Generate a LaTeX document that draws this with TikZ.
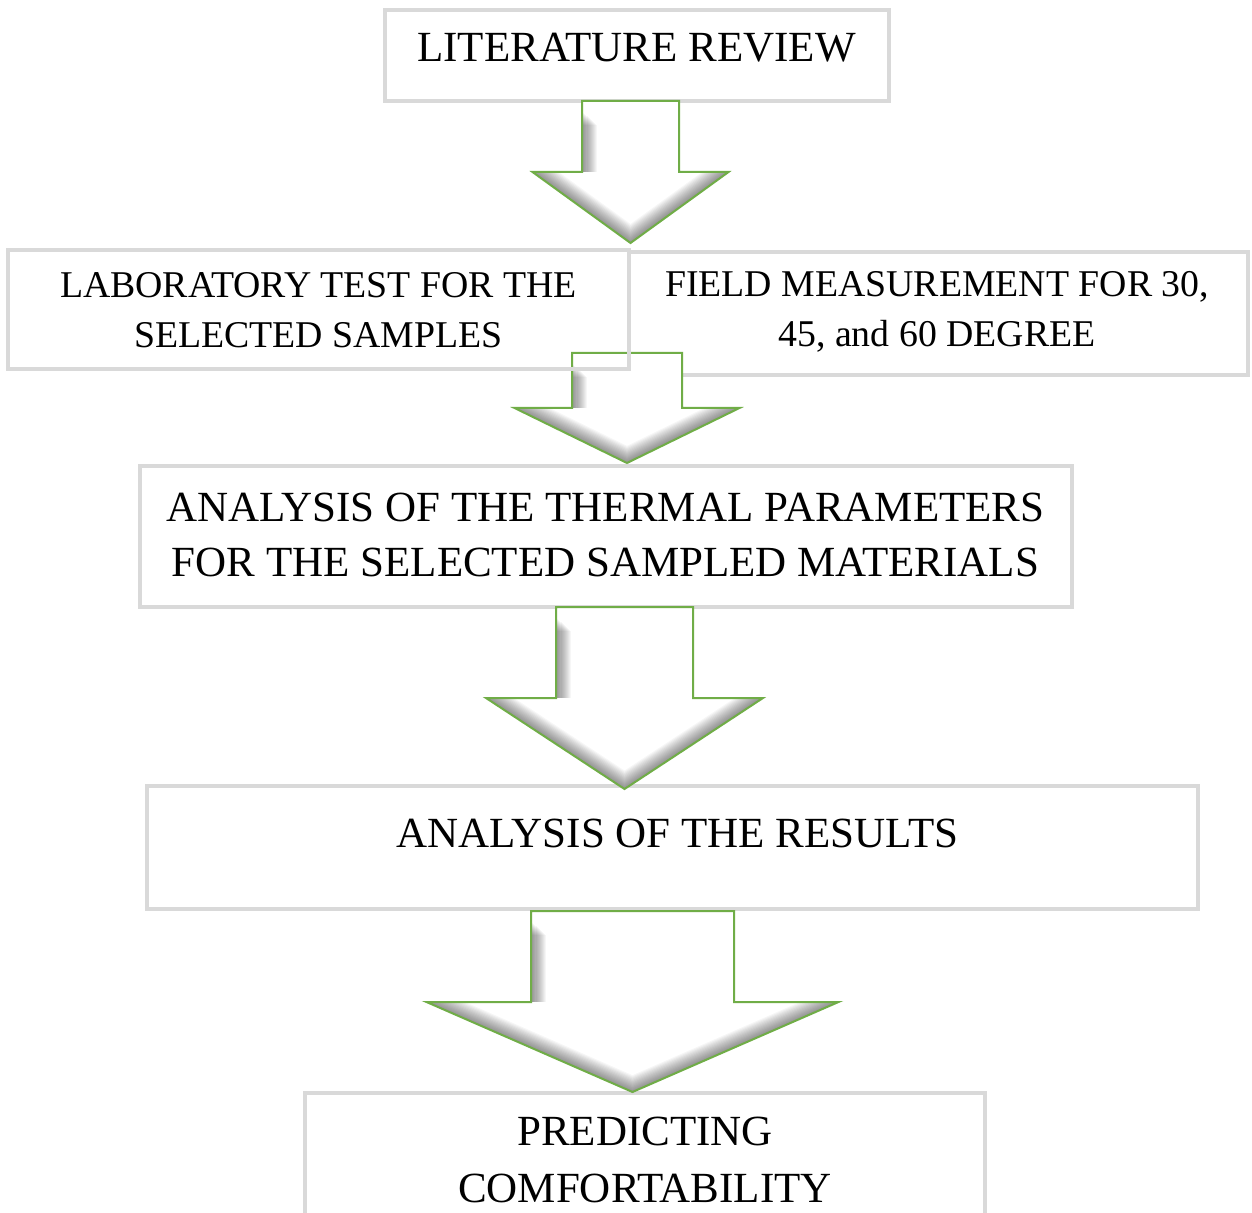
\documentclass[tikz,border=0pt]{standalone}
\usepackage{fontspec}
\setmainfont{Liberation Serif}
\usetikzlibrary{positioning}
\definecolor{boxgray}{HTML}{D9D9D9}
\definecolor{arrowgreen}{HTML}{70AD47}
\tikzset{
	stagebox/.style={draw=boxgray, line width=2pt, fill=white, inner sep=0pt},
	bigtext/.style={align=center, font=\fontsize{21.5}{27.5}\selectfont},
	smalltext/.style={align=center, font=\fontsize{18.9}{25}\selectfont},
	arrowbody/.style={draw=arrowgreen, line width=1pt, line join=miter},
	arrowshade/.style={black, opacity=0.035, line cap=butt}
}

\begin{document}
\begin{tikzpicture}[x=0.5pt,y=-0.5pt]
	\useasboundingbox (0,0) rectangle (1252,1213);
	% cadres
	\node[stagebox, minimum width=309.5pt, minimum height=61.5pt] (field) at (938.5,313.5) {};
	\node[stagebox, minimum width=252pt, minimum height=45.5pt] (lit) at (637,55.5) {};
	\node[stagebox, minimum width=466pt, minimum height=70.5pt] (thermal) at (606,536.5) {};
	\node[stagebox, minimum width=525.5pt, minimum height=61.5pt] (results) at (672.5,847.5) {};
	\node[stagebox, minimum width=340pt, minimum height=73.5pt] (predict) at (645,1166.5) {};
	% fleches
	\foreach \cx/\hs/\hh/\ytop/\ysh/\ytip in {630.5/48.5/98/101/172/243, 627/55/112.5/353/408/463,
		624.5/68.5/138.5/607/698/789, 632.5/101.5/206/911/1002/1092} {
		\begin{scope}
			\clip (\cx-\hs,\ytop) -- (\cx+\hs,\ytop) -- (\cx+\hs,\ysh) -- (\cx+\hh,\ysh) -- (\cx,\ytip)
				-- (\cx-\hh,\ysh) -- (\cx-\hs,\ysh) -- cycle;
			\fill[white] (\cx-\hh,\ytop) rectangle (\cx+\hh,\ytip);
			\foreach \w in {1,...,14} {
				\draw[arrowshade, line width=\w*1.1pt] (\cx-\hs,\ytop+10+\w) -- (\cx-\hs,\ysh);
				\draw[arrowshade, line width=\w*1.1pt] (\cx-\hh,\ysh) -- (\cx,\ytip) -- (\cx+\hh,\ysh);
			}
		\end{scope}
		\draw[arrowbody] (\cx-\hs,\ytop) -- (\cx+\hs,\ytop) -- (\cx+\hs,\ysh) -- (\cx+\hh,\ysh) -- (\cx,\ytip)
			-- (\cx-\hh,\ysh) -- (\cx-\hs,\ysh) -- cycle;
	}
	\node[stagebox, fill=none, minimum width=310.5pt, minimum height=59.5pt] (lab) at (318.5,309.5) {};
	% textes
	\node[bigtext] (littext) at (636.5,48) {LITERATURE REVIEW};
	\node[smalltext] (labtext) at (318.5,310) {LABORATORY TEST FOR THE\\SELECTED SAMPLES};
	\node[smalltext] (fieldtext) at (937,312) {FIELD MEASUREMENT FOR 30,\\45, and 60 DEGREE};
	\node[bigtext] (thermaltext) at (605.5,534.5) {ANALYSIS OF THE THERMAL PARAMETERS\\FOR THE SELECTED SAMPLED MATERIALS};
	\node[bigtext] (resultstext) at (677.5,833) {ANALYSIS OF THE RESULTS};
	\node[bigtext, font=\fontsize{21.5}{28.5}\selectfont] (predicttext) at (645,1159.5) {PREDICTING\\COMFORTABILITY};
\end{tikzpicture}
\end{document}
